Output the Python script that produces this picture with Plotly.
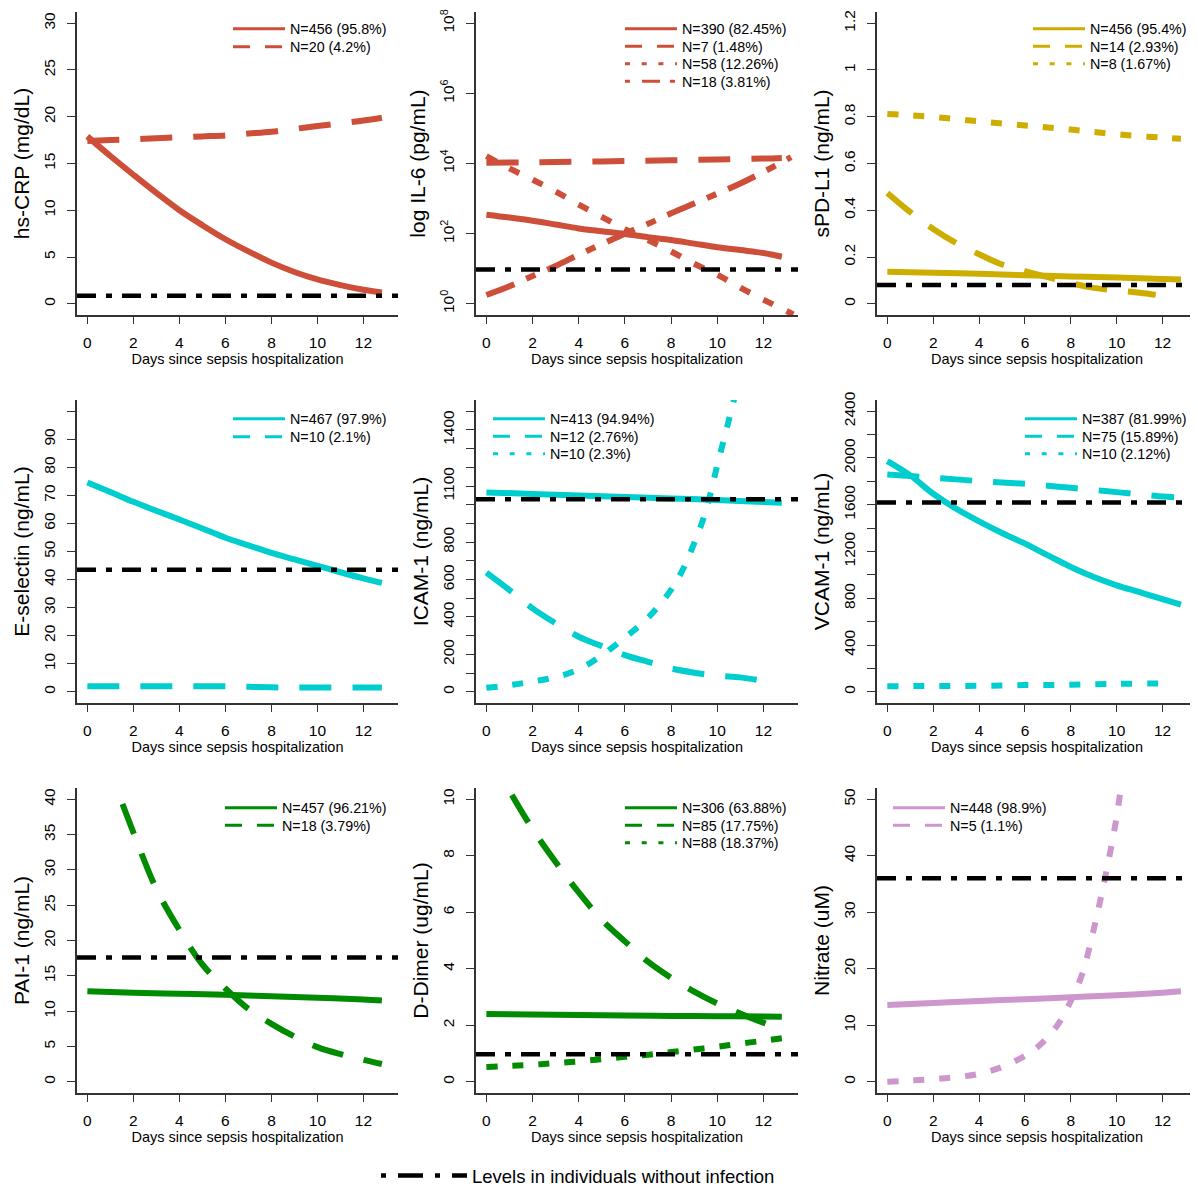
import plotly.graph_objects as go

# Page is 1198x1186; the HTML body adds an 8px margin, so the figure is 1190x1178
OFF = 8
W, H = 1190, 1178
FONT = "Liberation Sans, Arial, sans-serif"

RED = "#CD4F39"
GOLD = "#CDAD00"
CYAN = "#00CDCD"
GREEN = "#008B00"
PLUM = "#CD96CD"

XTITLE = "Days since sepsis hospitalization"
x_ticks = [0, 2, 4, 6, 8, 10, 12]

# ---------------- Panel 1: hs-CRP ----------------
crp_x = [0, 1, 2, 3, 4, 5, 6, 7, 8, 9, 10, 11, 12, 12.8]
crp_g1 = [17.9, 15.8, 13.8, 11.85, 10.0, 8.4, 6.9, 5.6, 4.4, 3.4, 2.6, 2.0, 1.5, 1.2]
crp_g2 = [17.4, 17.5, 17.6, 17.7, 17.8, 17.9, 18.0, 18.2, 18.4, 18.7, 19.0, 19.3, 19.6, 19.9]
crp_labels = ["N=456 (95.8%)", "N=20 (4.2%)"]
crp_ref = 0.85

# ---------------- Panel 2: IL-6 (pg/mL) ----------------
il6_x1 = [0, 1, 2, 3, 4, 5, 6, 7, 8, 9, 10, 11, 12, 12.8]
il6_g1 = [347, 288, 234, 182, 141, 117, 98, 79, 66, 52, 41, 34, 28, 22]
il6_x2 = [0, 2, 4, 6, 8, 10, 12, 12.8]
il6_g2 = [10470, 10800, 11220, 11700, 12300, 13000, 13800, 14450]
il6_x3 = [0, 1, 2, 3, 4, 5, 6, 7, 8, 9, 10, 11, 12, 13.3]
il6_g3 = [16220, 7244, 3467, 1585, 676, 302, 135, 66, 31, 13.8, 6.8, 2.9, 1.32, 0.50]
il6_x4 = [0, 1, 2, 3, 4, 5, 6, 7, 8, 9, 10, 11, 12, 13.2]
il6_g4 = [1.78, 3.16, 6.2, 12.0, 25.1, 50.1, 100, 190, 380, 724, 1380, 2690, 5750, 15140]
il6_labels = ["N=390 (82.45%)", "N=7 (1.48%)", "N=58 (12.26%)", "N=18 (3.81%)"]
il6_ref = 9.5
il6_tickvals = [1, 100, 1e4, 1e6, 1e8]
il6_ticktext = ["10<sup>0</sup>", "10<sup>2</sup>", "10<sup>4</sup>", "10<sup>6</sup>", "10<sup>8</sup>"]

# ---------------- Panel 3: sPD-L1 ----------------
pdl1_x1 = [0, 2, 4, 6, 8, 10, 12, 12.8]
pdl1_g1 = [0.137, 0.133, 0.128, 0.122, 0.117, 0.112, 0.106, 0.104]
pdl1_x2 = [0, 1, 2, 3, 4, 5, 6, 7, 8, 9, 10, 11, 11.7]
pdl1_g2 = [0.474, 0.392, 0.320, 0.260, 0.212, 0.168, 0.140, 0.114, 0.088, 0.068, 0.057, 0.047, 0.038]
pdl1_x3 = [0, 1, 2, 3, 4, 5, 6, 7, 8, 9, 10, 11, 12, 12.8]
pdl1_g3 = [0.812, 0.806, 0.799, 0.790, 0.781, 0.771, 0.763, 0.754, 0.745, 0.735, 0.725, 0.717, 0.711, 0.706]
pdl1_labels = ["N=456 (95.4%)", "N=14 (2.93%)", "N=8 (1.67%)"]
pdl1_ref = 0.08
pdl1_tickvals = [0, 0.2, 0.4, 0.6, 0.8, 1.0, 1.2]
pdl1_ticktext = ["0", "0.2", "0.4", "0.6", "0.8", "1", "1.2"]

# ---------------- Panel 4: E-selectin ----------------
esel_x = [0, 1, 2, 3, 4, 5, 6, 7, 8, 9, 10, 11, 12, 12.8]
esel_g1 = [74.6, 71.2, 67.7, 64.5, 61.4, 58.2, 54.9, 52.2, 49.5, 47.2, 44.9, 42.6, 40.4, 38.8]
esel_g2 = [2.0, 2.0, 2.0, 2.0, 2.0, 2.0, 2.0, 1.8, 1.6, 1.5, 1.5, 1.5, 1.5, 1.5]
esel_labels = ["N=467 (97.9%)", "N=10 (2.1%)"]
esel_ref = 43.5
esel_tickvals = [0, 10, 20, 30, 40, 50, 60, 70, 80, 90]
esel_minor = [100]

# ---------------- Panel 5: ICAM-1 ----------------
icam_x1 = [0, 2, 4, 6, 8, 10, 12, 12.8]
icam_g1 = [1066, 1058, 1050, 1042, 1034, 1025, 1015, 1011]
icam_x2 = [0, 1, 2, 3, 4, 5, 6, 7, 8, 9, 10, 11, 11.8]
icam_g2 = [637, 544, 446, 366, 294, 244, 196, 160, 125, 102, 86, 77, 62]
icam_x3 = [0, 1, 2, 3, 4, 5, 6, 7, 8, 8.5, 9, 9.5, 10, 10.5, 11]
icam_g3 = [21, 35, 55, 78, 120, 195, 290, 395, 545, 651, 794, 963, 1210, 1450, 1700]
icam_labels = ["N=413 (94.94%)", "N=12 (2.76%)", "N=10 (2.3%)"]
icam_ref = 1030
icam_tickvals = [0, 200, 400, 600, 800, 1100, 1400]
icam_minor = [100, 300, 500, 700, 900, 1000, 1200, 1300, 1500]

# ---------------- Panel 6: VCAM-1 ----------------
vcam_x1 = [0, 1, 2, 3, 4, 5, 6, 7, 8, 9, 10, 11, 12, 12.8]
vcam_g1 = [1973, 1851, 1694, 1566, 1458, 1358, 1267, 1167, 1068, 982, 911, 852, 792, 745]
vcam_x2 = [0, 1, 2, 3, 4, 5, 6, 7, 8, 9, 10, 11, 12, 12.5]
vcam_g2 = [1859, 1845, 1831, 1817, 1802, 1790, 1779, 1762, 1745, 1727, 1708, 1690, 1671, 1665]
vcam_x3 = [0, 2, 4, 6, 8, 10, 12]
vcam_g3 = [48, 49, 51, 57, 60, 68, 71]
vcam_labels = ["N=387 (81.99%)", "N=75 (15.89%)", "N=10 (2.12%)"]
vcam_ref = 1620
vcam_tickvals = [0, 400, 800, 1200, 1600, 2000, 2400]
vcam_minor = [200, 600, 1000, 1400, 1800, 2200]

# ---------------- Panel 7: PAI-1 ----------------
pai_x1 = [0, 2, 4, 6, 8, 10, 12, 12.8]
pai_g1 = [12.8, 12.6, 12.45, 12.3, 12.1, 11.9, 11.65, 11.5]
pai_x2 = [0, 1, 2, 3, 4, 5, 6, 7, 8, 9, 10, 11, 12, 12.8]
pai_g2 = [53.5, 44.0, 35.3, 27.3, 21.5, 16.6, 13.2, 10.3, 8.2, 6.4, 4.9, 3.9, 3.1, 2.5]
pai_labels = ["N=457 (96.21%)", "N=18 (3.79%)"]
pai_ref = 17.6

# ---------------- Panel 8: D-Dimer ----------------
ddim_x1 = [0, 2, 4, 6, 8, 10, 12, 12.8]
ddim_g1 = [2.40, 2.38, 2.36, 2.34, 2.33, 2.32, 2.31, 2.30]
ddim_x2 = [0, 1, 2, 3, 4, 5, 6, 7, 8, 9, 10, 11, 12, 12.5]
ddim_g2 = [11.8, 10.3, 8.95, 7.78, 6.7, 5.73, 4.97, 4.25, 3.68, 3.19, 2.77, 2.41, 2.09, 1.94]
ddim_x3 = [0, 1, 2, 3, 4, 5, 6, 7, 8, 9, 10, 11, 12, 12.8]
ddim_g3 = [0.52, 0.56, 0.60, 0.66, 0.72, 0.80, 0.88, 0.95, 1.05, 1.14, 1.24, 1.35, 1.45, 1.54]
ddim_labels = ["N=306 (63.88%)", "N=85 (17.75%)", "N=88 (18.37%)"]
ddim_ref = 0.97

# ---------------- Panel 9: Nitrate ----------------
nit_x1 = [0, 2, 4, 6, 8, 10, 12, 12.8]
nit_g1 = [13.6, 13.95, 14.3, 14.6, 14.95, 15.3, 15.75, 16.0]
nit_x2 = [0, 1, 2, 3, 4, 5, 6, 6.6, 7.4, 8, 8.5, 9, 9.5, 10, 10.5]
nit_g2 = [0.0, 0.2, 0.45, 0.8, 1.4, 2.6, 4.6, 6.3, 9.9, 14.3, 19.1, 27.0, 36.3, 47.0, 62.0]
nit_labels = ["N=448 (98.9%)", "N=5 (1.1%)"]
nit_ref = 36

ref_label = "Levels in individuals without infection"

# ---------------- styles ----------------
LW = 6
DASH_PLOT = {"solid": "solid", "dash": "32px,21px", "dot": "11px,15px", "dotdash": "30px,13px,10px,13px"}
LEG_W = 3
DASH_LEG = {"solid": "solid", "dash": "17px,15px", "dot": "5px,11.7px", "dotdash": "5px,12px,18px,10px"}
REF_DASH = "19px,10px,6px,10px"

# page-pixel layout of the panels
col_px = [(77, 398), (476, 798), (877, 1197)]
row_px = [(12, 315), (400, 703), (788, 1093)]


def px_x(px):
    return (px - OFF) / W


def px_y(py):
    return 1 - (py - OFF) / H


fig = go.Figure()
layout = dict(
    width=W, height=H, margin=dict(l=0, r=0, t=0, b=0, autoexpand=False),
    paper_bgcolor="white", plot_bgcolor="white",
    font=dict(family=FONT, color="black"),
    shapes=[],
)

panels = [
    dict(title="hs-CRP (mg/dL)", yrange=[-1.2, 31.2], tickvals=[0, 5, 10, 15, 20, 25, 30], ticktext=None, minor=None, log=False,
         series=[(crp_x, crp_g1, RED, "solid", "solid"), (crp_x, crp_g2, RED, "dash", "dash")],
         labels=crp_labels, ref=crp_ref, text_x=293, rows=[28, 46]),
    dict(title="log IL-6 (pg/mL)", yrange=[-0.32, 8.32], tickvals=il6_tickvals, ticktext=il6_ticktext, minor=None, log=True,
         series=[(il6_x1, il6_g1, RED, "solid", "solid"), (il6_x2, il6_g2, RED, "dash", "dash"),
                 (il6_x3, il6_g3, RED, "dot", "dot"), (il6_x4, il6_g4, RED, "dotdash", "dotdash")],
         labels=il6_labels, ref=il6_ref, text_x=685, rows=[28, 45.5, 63, 80.5]),
    dict(title="sPD-L1 (ng/mL)", yrange=[-0.048, 1.248], tickvals=pdl1_tickvals, ticktext=pdl1_ticktext, minor=None, log=False,
         series=[(pdl1_x1, pdl1_g1, GOLD, "solid", "solid"), (pdl1_x2, pdl1_g2, GOLD, "dash", "dash"),
                 (pdl1_x3, pdl1_g3, GOLD, "dot", "dot")],
         labels=pdl1_labels, ref=pdl1_ref, text_x=1093, rows=[28, 45.5, 63]),
    dict(title="E-selectin (ng/mL)", yrange=[-4, 104], tickvals=esel_tickvals, ticktext=None, minor=esel_minor, log=False,
         series=[(esel_x, esel_g1, CYAN, "solid", "solid"), (esel_x, esel_g2, CYAN, "dash", "dash")],
         labels=esel_labels, ref=esel_ref, text_x=293, rows=[418, 436]),
    dict(title="ICAM-1 (ng/mL)", yrange=[-60, 1560], tickvals=icam_tickvals, ticktext=None, minor=icam_minor, log=False,
         series=[(icam_x1, icam_g1, CYAN, "solid", "solid"), (icam_x2, icam_g2, CYAN, "dash", "dash"),
                 (icam_x3, icam_g3, CYAN, "dot", "dot")],
         labels=icam_labels, ref=icam_ref, text_x=553, rows=[418, 435.5, 453]),
    dict(title="VCAM-1 (ng/mL)", yrange=[-96, 2496], tickvals=vcam_tickvals, ticktext=None, minor=vcam_minor, log=False,
         series=[(vcam_x1, vcam_g1, CYAN, "solid", "solid"), (vcam_x2, vcam_g2, CYAN, "dash", "dash"),
                 (vcam_x3, vcam_g3, CYAN, "dot", "dot")],
         labels=vcam_labels, ref=vcam_ref, text_x=1085, rows=[418, 435.5, 453]),
    dict(title="PAI-1 (ng/mL)", yrange=[-1.6, 41.6], tickvals=[0, 5, 10, 15, 20, 25, 30, 35, 40], ticktext=None, minor=None, log=False,
         series=[(pai_x1, pai_g1, GREEN, "solid", "solid"), (pai_x2, pai_g2, GREEN, "dash", "dash")],
         labels=pai_labels, ref=pai_ref, text_x=285, rows=[807, 824.5]),
    dict(title="D-Dimer (ug/mL)", yrange=[-0.4, 10.4], tickvals=[0, 2, 4, 6, 8, 10], ticktext=None, minor=None, log=False,
         series=[(ddim_x1, ddim_g1, GREEN, "solid", "solid"), (ddim_x2, ddim_g2, GREEN, "dash", "dash"),
                 (ddim_x3, ddim_g3, GREEN, "dot", "dot")],
         labels=ddim_labels, ref=ddim_ref, text_x=685, rows=[807, 824.5, 842]),
    dict(title="Nitrate (uM)", yrange=[-2, 52], tickvals=[0, 10, 20, 30, 40, 50], ticktext=None, minor=None, log=False,
         series=[(nit_x1, nit_g1, PLUM, "solid", "solid"), (nit_x2, nit_g2, PLUM, "dot", "dash")],
         labels=nit_labels, ref=nit_ref, text_x=953, rows=[807, 824.5]),
]

leg_count = 0
for i, p in enumerate(panels):
    n = i + 1
    r, c = divmod(i, 3)
    x0, x1 = col_px[c]
    top, bot = row_px[r]
    xa = "x" if n == 1 else f"x{n}"
    ya = "y" if n == 1 else f"y{n}"
    xkey = "xaxis" if n == 1 else f"xaxis{n}"
    ykey = "yaxis" if n == 1 else f"yaxis{n}"

    layout[xkey] = dict(
        domain=[px_x(x0), px_x(x1)], anchor=ya, range=[-0.45, 13.5],
        tickvals=x_ticks, ticks="outside", ticklen=7, tickwidth=1, tickcolor="#333",
        showline=True, linecolor="#333", linewidth=1.5, showgrid=False, zeroline=False,
        tickfont=dict(size=15.5, family=FONT, color="black"), ticklabelstandoff=6,
        title=dict(text=XTITLE, font=dict(size=14.5, family=FONT, color="black"), standoff=2),
        fixedrange=True,
    )
    yd = dict(
        domain=[px_y(bot), px_y(top)], anchor=xa, range=p["yrange"],
        tickvals=p["tickvals"], ticks="outside", ticklen=8, tickwidth=1, tickcolor="#333",
        showline=True, linecolor="#333", linewidth=1.5, showgrid=False, zeroline=False,
        tickangle=-90, tickfont=dict(size=15.5, family=FONT, color="black"), ticklabelstandoff=6,
        title=dict(text=p["title"], font=dict(size=21, family=FONT, color="black"), standoff=6),
        fixedrange=True,
    )
    if p["ticktext"] is not None:
        yd["ticktext"] = p["ticktext"]
    if p["minor"] is not None:
        yd["minor"] = dict(tickvals=p["minor"], ticks="outside", ticklen=8, tickwidth=1, tickcolor="#333", showgrid=False)
    if p["log"]:
        yd["type"] = "log"
    layout[ykey] = yd

    for (sx, sy, col, dplot, dleg), lab, row_c in zip(p["series"], p["labels"], p["rows"]):
        fig.add_trace(go.Scatter(
            x=sx, y=sy, mode="lines", xaxis=xa, yaxis=ya, showlegend=False, hoverinfo="skip",
            line=dict(color=col, width=LW, dash=DASH_PLOT[dplot], shape="spline", smoothing=1.0),
        ))
        leg_count += 1
        legkey = "legend" if leg_count == 1 else f"legend{leg_count}"
        layout[legkey] = dict(
            x=px_x(p["text_x"] - 65), y=px_y(row_c - 15), xanchor="left", yanchor="top",
            bgcolor="rgba(0,0,0,0)", borderwidth=0, itemwidth=52,
            font=dict(size=14.3, family=FONT, color="black"),
        )
        fig.add_trace(go.Scatter(
            x=[None], y=[None], mode="lines", xaxis=xa, yaxis=ya, name=lab, legend=legkey,
            line=dict(color=col, width=LEG_W, dash=DASH_LEG[dleg]),
        ))

    layout["shapes"].append(dict(
        type="line", xref=f"{xa} domain", x0=0, x1=1, yref=ya, y0=p["ref"], y1=p["ref"],
        line=dict(color="black", width=4.5, dash=REF_DASH), layer="above",
    ))

# bottom legend for the reference line
leg_count += 1
bot_leg = f"legend{leg_count}"
fig.add_trace(go.Scatter(
    x=[None], y=[None], mode="lines", xaxis="x8", yaxis="y8", name=ref_label, legend=bot_leg,
    line=dict(color="black", width=4.5, dash="5px,12px,25px,12px"),
))
layout[bot_leg] = dict(
    x=px_x(376), y=px_y(1157), xanchor="left", yanchor="top",
    bgcolor="rgba(0,0,0,0)", borderwidth=0, itemwidth=86,
    font=dict(size=18.5, family=FONT, color="black"),
)

fig.update_layout(**layout)
fig.write_html("out.html")
